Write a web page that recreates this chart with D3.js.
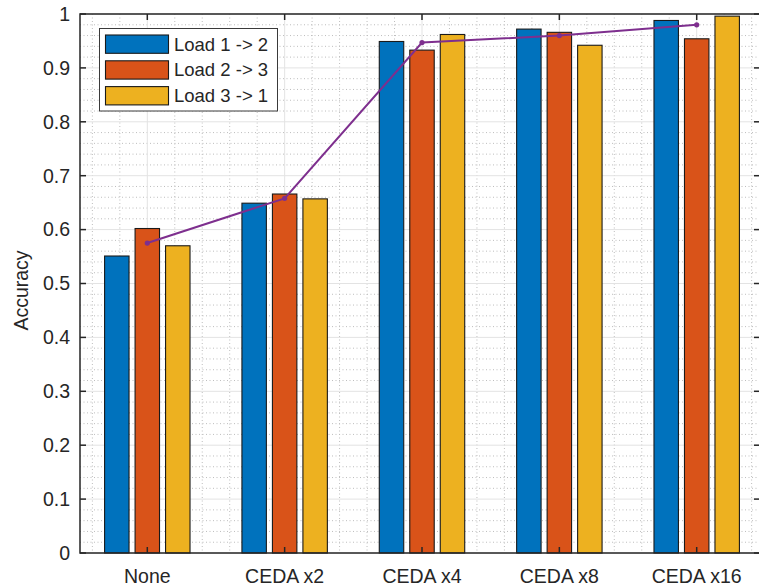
<!DOCTYPE html>
<html>
<head>
<meta charset="utf-8">
<script src="https://cdn.jsdelivr.net/npm/d3@7/dist/d3.min.js"></script>
<style>
  html, body { margin: 0; padding: 0; background: #fff; }
  svg { display: block; }
  text { font-family: "Liberation Sans", Arial, Helvetica, sans-serif; fill: #262626; }
</style>
</head>
<body>
<svg id="chart" width="759" height="587"></svg>
<script>
// Accuracy per training setting for each load-transfer direction
const categories = ["None", "CEDA x2", "CEDA x4", "CEDA x8", "CEDA x16"];
const seriesNames = ["Load 1 -> 2", "Load 2 -> 3", "Load 3 -> 1"];
const load12 = [0.551, 0.649, 0.949, 0.972, 0.988];
const load23 = [0.602, 0.666, 0.933, 0.966, 0.954];
const load31 = [0.570, 0.657, 0.962, 0.942, 0.996];
// Average accuracy across the three directions
const meanAcc = [0.575, 0.658, 0.947, 0.960, 0.980];
const yTicks = [0, 0.1, 0.2, 0.3, 0.4, 0.5, 0.6, 0.7, 0.8, 0.9, 1];
const yTickLabels = ["0", "0.1", "0.2", "0.3", "0.4", "0.5", "0.6", "0.7", "0.8", "0.9", "1"];

const colors = ["#0072BD", "#D95319", "#EDB120"];
const lineColor = "#7E2F8E";
const series = [load12, load23, load31];

const svg = d3.select("#chart");
const frame = { left: 80, right: 761, top: 14, bottom: 553 };

const x = d3.scaleLinear().domain([1, 5]).range([147.3, 696.7]);
const y = d3.scaleLinear().domain([0, 1]).range([frame.bottom, frame.top]);
const xMax = x.invert(frame.right);

const barWidth = 0.178;   // in category units
const barOffset = 0.222;  // spacing between bars in a group

const grid = svg.append("g");

// minor grid (dotted)
const yMinor = d3.range(0, 1.0001, 0.02).filter(v => Math.abs(v * 10 - Math.round(v * 10)) > 1e-6);
grid.selectAll(".ymin").data(yMinor).join("line")
  .attr("x1", frame.left).attr("x2", frame.right)
  .attr("y1", d => y(d)).attr("y2", d => y(d))
  .attr("stroke", "#bdbdbd").attr("stroke-width", 1).attr("stroke-dasharray", "1,2.5");
const xMinor = d3.range(0.6, xMax, 0.2).filter(v => Math.abs(v - Math.round(v)) > 1e-6);
grid.selectAll(".xmin").data(xMinor).join("line")
  .attr("x1", d => x(d)).attr("x2", d => x(d))
  .attr("y1", frame.top).attr("y2", frame.bottom)
  .attr("stroke", "#bdbdbd").attr("stroke-width", 1).attr("stroke-dasharray", "1,2.5");

// major grid
grid.selectAll(".ymaj").data(yTicks).join("line")
  .attr("x1", frame.left).attr("x2", frame.right)
  .attr("y1", d => y(d)).attr("y2", d => y(d))
  .attr("stroke", "#e3e3e3").attr("stroke-width", 1);
grid.selectAll(".xmaj").data(d3.range(1, 6)).join("line")
  .attr("x1", d => x(d)).attr("x2", d => x(d))
  .attr("y1", frame.top).attr("y2", frame.bottom)
  .attr("stroke", "#e3e3e3").attr("stroke-width", 1);

// bars
series.forEach((vals, s) => {
  svg.append("g").selectAll("rect").data(vals).join("rect")
    .attr("x", (d, i) => x(i + 1 + (s - 1) * barOffset - barWidth / 2))
    .attr("width", x(1 + barWidth) - x(1))
    .attr("y", d => y(d))
    .attr("height", d => y(0) - y(d))
    .attr("fill", colors[s])
    .attr("stroke", "#1a1a1a").attr("stroke-width", 1.1);
});

// mean line
const line = d3.line().x((d, i) => x(i + 1)).y(d => y(d));
svg.append("path").datum(meanAcc)
  .attr("d", line).attr("fill", "none")
  .attr("stroke", lineColor).attr("stroke-width", 2);
svg.append("g").selectAll("circle").data(meanAcc).join("circle")
  .attr("cx", (d, i) => x(i + 1)).attr("cy", d => y(d)).attr("r", 2.6)
  .attr("fill", lineColor);

// axes box and ticks
const axis = svg.append("g").attr("stroke", "#262626").attr("stroke-width", 1.5).attr("fill", "none");
axis.append("rect")
  .attr("x", frame.left).attr("y", frame.top)
  .attr("width", frame.right - frame.left).attr("height", frame.bottom - frame.top);
const tl = 6;
yTicks.forEach(v => {
  axis.append("line").attr("x1", frame.left).attr("x2", frame.left + tl).attr("y1", y(v)).attr("y2", y(v));
  axis.append("line").attr("x1", frame.right - tl - 1).attr("x2", frame.right).attr("y1", y(v)).attr("y2", y(v));
});
d3.range(1, 6).forEach(c => {
  axis.append("line").attr("x1", x(c)).attr("x2", x(c)).attr("y1", frame.bottom).attr("y2", frame.bottom - tl);
  axis.append("line").attr("x1", x(c)).attr("x2", x(c)).attr("y1", frame.top).attr("y2", frame.top + tl);
});

// tick labels
svg.append("g").selectAll("text").data(yTicks).join("text")
  .attr("x", frame.left - 10).attr("y", d => y(d)).attr("dy", "0.35em")
  .attr("text-anchor", "end").attr("font-size", 19.5)
  .text((d, i) => yTickLabels[i]);
svg.append("g").selectAll("text").data(categories).join("text")
  .attr("x", (d, i) => x(i + 1)).attr("y", 583)
  .attr("text-anchor", "middle").attr("font-size", 19.5)
  .text(d => d);

// y axis title
svg.append("text")
  .attr("transform", `translate(28,${(frame.top + frame.bottom) / 2 + 7}) rotate(-90)`)
  .attr("text-anchor", "middle").attr("font-size", 19.5)
  .text("Accuracy");

// legend
const lg = svg.append("g");
lg.append("rect").attr("x", 99.5).attr("y", 28.5).attr("width", 178).attr("height", 82.5)
  .attr("fill", "#fff").attr("stroke", "#3a3a3a").attr("stroke-width", 1);
seriesNames.forEach((name, i) => {
  const yy = 35 + i * 25.8;
  lg.append("rect").attr("x", 105.5).attr("y", yy).attr("width", 63).attr("height", 18.3)
    .attr("fill", colors[i]).attr("stroke", "#1a1a1a").attr("stroke-width", 1.1);
  lg.append("text").attr("x", 174).attr("y", yy + 9.2).attr("dy", "0.35em")
    .attr("font-size", 18.5).text(name);
});
</script>
</body>
</html>
